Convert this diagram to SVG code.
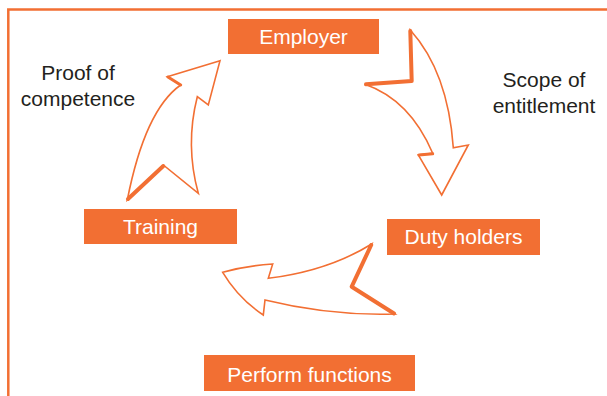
<svg xmlns="http://www.w3.org/2000/svg" width="607" height="396" viewBox="0 0 607 396">
<style>
.box{fill:#F26F33}
.bt{font-family:"Liberation Sans",Arial,sans-serif;font-size:21px;fill:#FFFFFF;text-anchor:middle}
.lt{font-family:"Liberation Sans",Arial,sans-serif;font-size:21px;fill:#231F20;text-anchor:middle}
.arr{fill:#FFFFFF;stroke:#F26F33;stroke-width:1.6;stroke-linejoin:miter}
.sh{fill:none;stroke:#F26F33;stroke-width:4;stroke-linecap:round;stroke-linejoin:round}
.frame{fill:none;stroke:#F26F33;stroke-width:2.5}
</style>
<rect width="607" height="396" fill="#FFFFFF"/>
<path class="frame" d="M8.3,396 V9.5 H607"/>
<g id="connectors">
  <g id="arrow-employer-duty">
    <path class="arr" d="M410.3,30 L411.7,81 L365,84.3 Q410,100 432.7,153.3 L418.3,155 L441.7,195 L468.3,145 L453.3,147.7 Q448,72 410.3,30 Z"/>
    <path class="sh" d="M410.3,31 L411.7,81 L366,84.3"/>
    <path class="sh" d="M432.7,153.8 L419,155" style="stroke-width:3"/>
  </g>
  <g id="arrow-duty-perform">
    <path class="arr" d="M222.7,272.3 Q245,266 272.7,264 L268.3,278.3 Q328,271 371.7,244 L351.7,286.7 L395,314 Q330,316 265,300 L263.3,315 Q238,298 222.7,272.3 Z"/>
    <path class="sh" d="M371.2,245 L351.7,286.7 L394,313.5"/>
  </g>
  <g id="arrow-training-employer">
    <path class="arr" d="M220,60.7 L167.3,76.7 L180.7,85 Q145,110 127.3,200 L163.3,165 L198.3,193.3 Q185,145 197.3,96.7 L208.3,105 Z"/>
    <path class="sh" d="M128,199 L163.3,166"/>
    <path class="sh" d="M168,77 L180.7,85" style="stroke-width:3"/>
  </g>
</g>
<g id="node-employer">
  <rect class="box" x="228" y="19" width="151" height="35"/>
  <text class="bt" x="303.5" y="44">Employer</text>
</g>
<g id="node-duty-holders">
  <rect class="box" x="387" y="219" width="153" height="36"/>
  <text class="bt" x="463.5" y="244">Duty holders</text>
</g>
<g id="node-training">
  <rect class="box" x="84" y="209" width="153" height="35"/>
  <text class="bt" x="160.5" y="234">Training</text>
</g>
<g id="node-perform">
  <rect class="box" x="204" y="355" width="211" height="36"/>
  <text class="bt" x="309.5" y="381.5">Perform functions</text>
</g>
<g id="label-proof">
  <text class="lt" x="78" y="79.5">Proof of</text>
  <text class="lt" x="78" y="106">competence</text>
</g>
<g id="label-scope">
  <text class="lt" x="544" y="86.5">Scope of</text>
  <text class="lt" x="544" y="113">entitlement</text>
</g>
</svg>
